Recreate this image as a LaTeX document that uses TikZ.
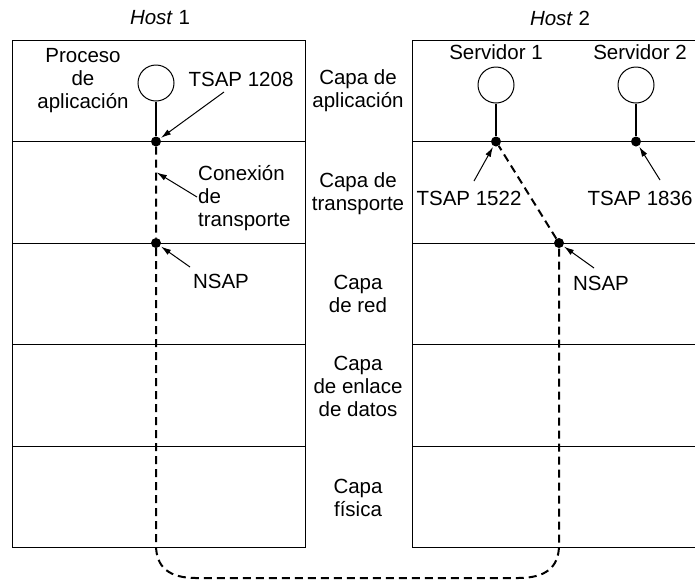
\documentclass[tikz,border=0pt]{standalone}
\usepackage{fontspec}
\setmainfont{Liberation Sans}
\usetikzlibrary{arrows.meta}

\begin{document}
\begin{tikzpicture}[x=1pt,y=-1pt,>=Latex,
  lbl/.style={font=\fontsize{20.5}{23}\selectfont,align=center,inner sep=0pt},
  proc/.style={draw,circle,minimum size=36pt,inner sep=0pt,line width=1pt},
  sap/.style={circle,fill,inner sep=0pt,minimum size=10pt},
  conn/.style={line width=2pt,dash pattern=on 8pt off 5pt},
  ptr/.style={->,line width=1pt,>={Latex[length=10pt,width=6pt]}},
  layer/.style={line width=1pt}]
\useasboundingbox (0,0) rectangle (695,582);
% the two stacks of layers
\foreach \y in {40,141.5,243,344.5,446,547.5}{
  \draw[layer] (12,\y) -- (305,\y);
  \draw[layer] (412,\y) -- (695,\y);
}
\draw[layer] (12,40) -- (12,547.5);
\draw[layer] (305,40) -- (305,547.5);
\draw[layer] (412,40) -- (412,547.5);
% hosts
\node[lbl] (h1) at (160,18) {\textit{Host} 1};
\node[lbl] (h2) at (560,18) {\textit{Host} 2};
% layer names
\node[lbl] (lapp) at (358,91) {Capa de\\aplicación};
\node[lbl] (ltra) at (358,194) {Capa de\\transporte};
\node[lbl] (lred) at (358,294) {Capa\\de red};
\node[lbl] (lenl) at (358,386) {Capa\\de enlace\\de datos};
\node[lbl] (lfis) at (358,498) {Capa\\física};
% processes and access points
\node[proc] (p1) at (156,83) {};
\node[proc] (p2) at (496,85) {};
\node[proc] (p3) at (636,85) {};
\node[sap] (s1208) at (156,141.5) {};
\node[sap] (s1522) at (496,141.5) {};
\node[sap] (s1836) at (636,141.5) {};
\node[sap] (nl) at (156,243) {};
\node[sap] (nr) at (559,243) {};
\foreach \u/\v in {p1/s1208,p2/s1522,p3/s1836}
  \draw[line width=2pt] (\u) -- (\v);
% transport connection
\draw[conn] (s1208) -- (nl) -- (156,545)
  .. controls (156,568) and (170,578) .. (196,578) -- (518,578)
  .. controls (545,578) and (559,568) .. (559,545) -- (nr) -- (s1522);
% labels
\node[lbl] (proc) at (83,81) {Proceso\\de\\aplicación};
\node[lbl] (t1208) at (241,79) {TSAP 1208};
\node[lbl,align=left,anchor=west] (conex) at (198,198) {Conexión\\de\\transporte};
\node[lbl] (nsapl) at (221,281) {NSAP};
\node[lbl] (serv1) at (496,52) {Servidor 1};
\node[lbl] (serv2) at (640,52) {Servidor 2};
\node[lbl] (t1522) at (469,198) {TSAP 1522};
\node[lbl] (t1836) at (640,198) {TSAP 1836};
\node[lbl] (nsapr) at (601,283) {NSAP};
% pointers
\coordinate (a1208) at (224,92);
\coordinate (aconex) at (197,197);
\coordinate (anl) at (190,267);
\coordinate (a1522) at (474,181);
\coordinate (a1836) at (660,180);
\coordinate (anr) at (594,268);
\foreach \u/\v in {a1208/s1208,aconex/{156,172},anl/nl,a1522/s1522,a1836/s1836,anr/nr}
  \draw[ptr,shorten >=1pt] (\u) -- (\v);
\end{tikzpicture}
\end{document}
